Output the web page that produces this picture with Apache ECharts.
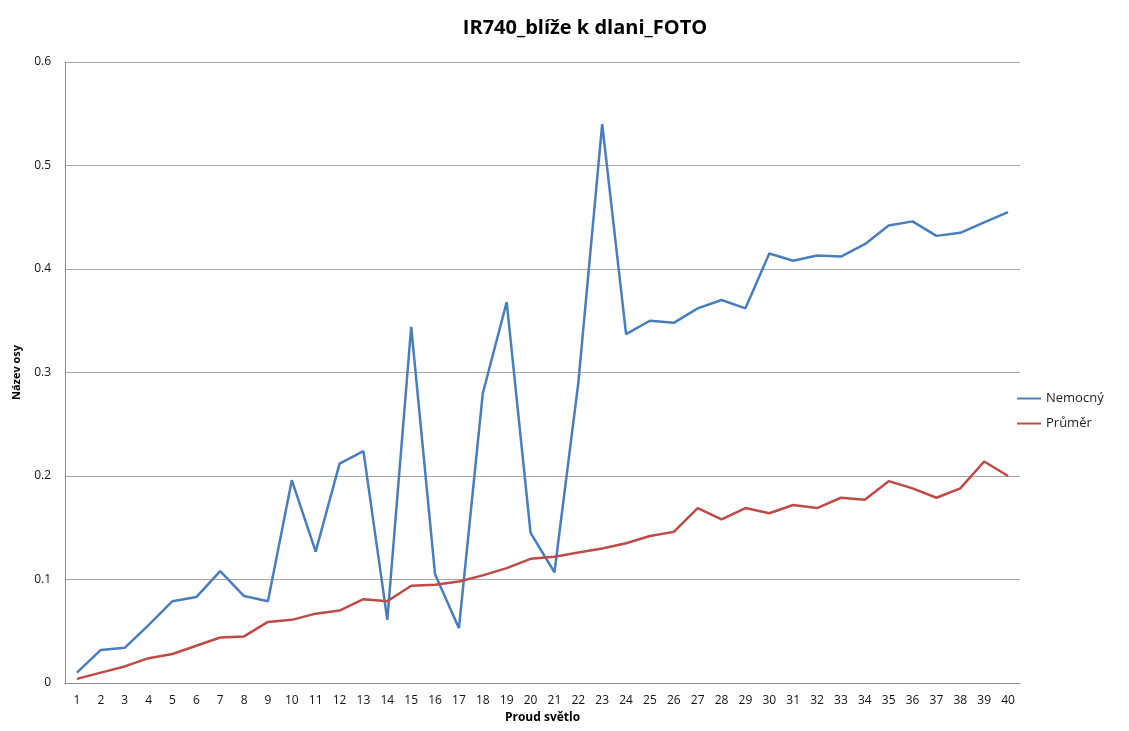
<!DOCTYPE html>
<html>
<head>
<meta charset="utf-8">
<script src="https://cdn.jsdelivr.net/npm/echarts@6/dist/echarts.min.js"></script>
<style>
  html, body { margin: 0; padding: 0; background: #fff; }
  #main { width: 1129px; height: 731px; }
</style>
</head>
<body>
<div id="main"></div>
<script>
// data
var categories = [];
for (var i = 1; i <= 40; i++) categories.push(String(i));

var nemocny = [
  0.010, 0.032, 0.034, 0.056, 0.079, 0.083, 0.108, 0.084, 0.079, 0.196,
  0.127, 0.212, 0.224, 0.061, 0.344, 0.105, 0.053, 0.280, 0.368, 0.145,
  0.107, 0.290, 0.540, 0.337, 0.350, 0.348, 0.362, 0.370, 0.362, 0.415,
  0.408, 0.413, 0.412, 0.424, 0.442, 0.446, 0.432, 0.435, 0.445, 0.455
];
var prumer = [
  0.004, 0.010, 0.016, 0.024, 0.028, 0.036, 0.044, 0.045, 0.059, 0.061,
  0.067, 0.070, 0.081, 0.079, 0.094, 0.095, 0.098, 0.104, 0.111, 0.120,
  0.122, 0.126, 0.130, 0.135, 0.142, 0.146, 0.169, 0.158, 0.169, 0.164,
  0.172, 0.169, 0.179, 0.177, 0.195, 0.188, 0.179, 0.188, 0.214, 0.200
];

var font = 'Open Sans';
var myChart = echarts.init(document.getElementById('main'));
myChart.setOption({
    animation: false,
    title: {
        text: 'IR740_blíže k dlani_FOTO',
        left: 580,
        textAlign: 'center',
        top: 13,
        textStyle: { fontFamily: font, fontSize: 20, fontWeight: 'bold', color: '#000' }
    },
    legend: {
        orient: 'vertical',
        left: 1012,
        top: 387,
        itemGap: 12,
        itemWidth: 24,
        icon: 'rect',
        itemHeight: 2,
        textStyle: { fontFamily: font, fontSize: 13, color: '#222' },
        data: ['Nemocný', 'Průměr']
    },
    grid: { left: 65, right: 109, top: 62, bottom: 48 },
    xAxis: {
        type: 'category',
        data: categories,
        name: 'Proud světlo',
        nameLocation: 'middle',
        nameGap: 29,
        nameTextStyle: { fontFamily: font, fontSize: 12, fontWeight: 'bold', color: '#000' },
        axisLine: { lineStyle: { color: '#8c8c8c', width: 1 } },
        axisTick: { show: false },
        axisLabel: { fontFamily: font, fontSize: 12, color: '#111', margin: 12, interval: 0 }
    },
    yAxis: {
        type: 'value',
        min: 0,
        max: 0.6,
        interval: 0.1,
        name: 'Název osy',
        nameLocation: 'middle',
        nameGap: 43,
        nameRotate: 90,
        nameTextStyle: { fontFamily: font, fontSize: 11, fontWeight: 'bold', color: '#000' },
        axisLine: { show: true, lineStyle: { color: '#8c8c8c', width: 1 } },
        axisTick: { show: false },
        axisLabel: { fontFamily: font, fontSize: 12, color: '#111', margin: 14 },
        splitLine: { lineStyle: { color: '#a6a6a6', width: 1 } }
    },
    series: [
        {
            name: 'Nemocný',
            type: 'line',
            data: nemocny,
            symbol: 'none',
            lineStyle: { color: '#4a7ebb', width: 2.5 },
            itemStyle: { color: '#4a7ebb' }
        },
        {
            name: 'Průměr',
            type: 'line',
            data: prumer,
            symbol: 'none',
            lineStyle: { color: '#be4b48', width: 2.5 },
            itemStyle: { color: '#be4b48' }
        }
    ]
});
</script>
</body>
</html>
